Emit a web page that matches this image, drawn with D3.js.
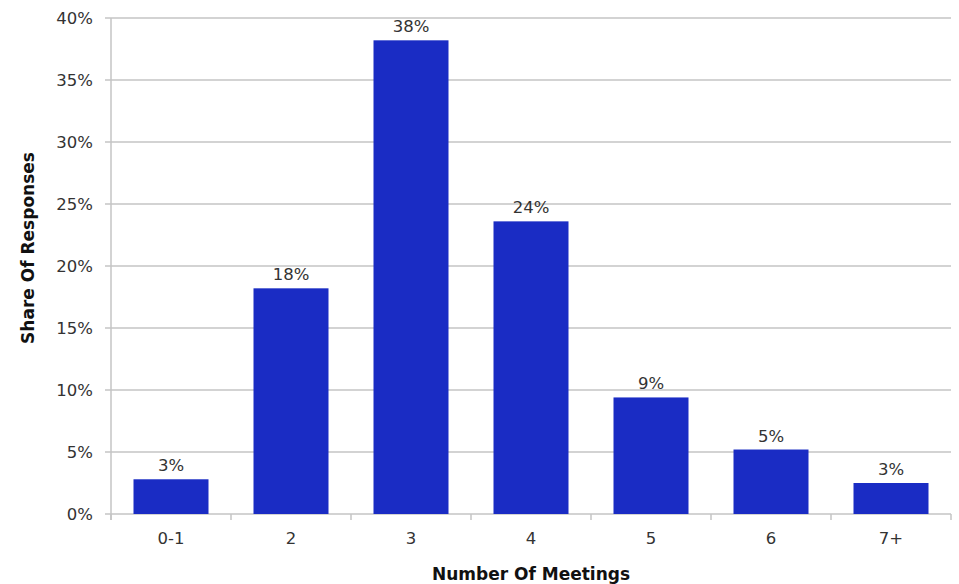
<!DOCTYPE html>
<html><head><meta charset="utf-8">
<script src="https://cdn.jsdelivr.net/npm/d3@7"></script>
<style>body{margin:0;background:#fff}svg{display:block}</style>
</head><body><svg id="c" width="959" height="584"></svg>
<script>
const categories = ["0-1","2","3","4","5","6","7+"];
const values = [2.8, 18.2, 38.2, 23.6, 9.4, 5.2, 2.5];
const labels = ["3%","18%","38%","24%","9%","5%","3%"];
const yTicks = [0,5,10,15,20,25,30,35,40];

const font = "'DejaVu Sans', sans-serif";
const svg = d3.select("#c");
const m = {l:111, r:951, t:18, b:514};
const x = d3.scaleBand().domain(categories).range([m.l, m.r]).paddingInner(0.375).paddingOuter(0.1875);
const y = d3.scaleLinear().domain([0,40]).range([m.b, m.t]);

// gridlines
svg.append("g").selectAll("line").data(yTicks).join("line")
  .attr("x1", m.l-6).attr("x2", m.r).attr("y1", d=>y(d)).attr("y2", d=>y(d))
  .attr("stroke", "#c4c4c4").attr("stroke-width", 1.5);
// y labels
svg.append("g").selectAll("text").data(yTicks).join("text")
  .attr("x", 93).attr("y", d=>y(d)).attr("dy","0.35em").attr("text-anchor","end")
  .attr("font-family", font).attr("font-size", 16.5).attr("fill","#333")
  .text(d=>d+"%");
// left axis line
svg.append("line").attr("x1", m.l).attr("x2", m.l).attr("y1", m.t).attr("y2", m.b+6)
  .attr("stroke","#c4c4c4").attr("stroke-width",1.5);
// bars
svg.append("g").selectAll("rect").data(values).join("rect")
  .attr("x", (d,i)=>x(categories[i])).attr("width", x.bandwidth())
  .attr("y", d=>y(d)).attr("height", d=>y(0)-y(d)).attr("fill","#1a2cc4");
// value labels
svg.append("g").selectAll("text").data(values).join("text")
  .attr("x", (d,i)=>x(categories[i])+x.bandwidth()/2).attr("y", d=>y(d)-8)
  .attr("text-anchor","middle").attr("font-family", font).attr("font-size", 16.5).attr("fill","#333")
  .text((d,i)=>labels[i]);
// x axis
const step = x.step();
const tickXs = d3.range(categories.length+1).map(i=>m.l + i*step);
svg.append("g").selectAll("line").data(tickXs).join("line")
  .attr("x1", d=>d).attr("x2", d=>d).attr("y1", m.b).attr("y2", m.b+6)
  .attr("stroke","#c4c4c4").attr("stroke-width",1.5);
svg.append("g").selectAll("text").data(categories).join("text")
  .attr("x", d=>x(d)+x.bandwidth()/2).attr("y", 538).attr("dy","0.35em")
  .attr("text-anchor","middle").attr("font-family", font).attr("font-size", 16.5).attr("fill","#333")
  .text(d=>d);
// titles
svg.append("text").attr("x", (m.l+m.r)/2).attr("y", 574).attr("dy","0.35em")
  .attr("text-anchor","middle").attr("font-family", font).attr("font-weight","bold")
  .attr("font-size", 17).attr("fill","#111").text("Number Of Meetings");
svg.append("text").attr("transform","translate(28,248) rotate(-90)").attr("dy","0.35em")
  .attr("text-anchor","middle").attr("font-family", font).attr("font-weight","bold")
  .attr("font-size", 17).attr("fill","#111").text("Share Of Responses");
</script></body></html>
